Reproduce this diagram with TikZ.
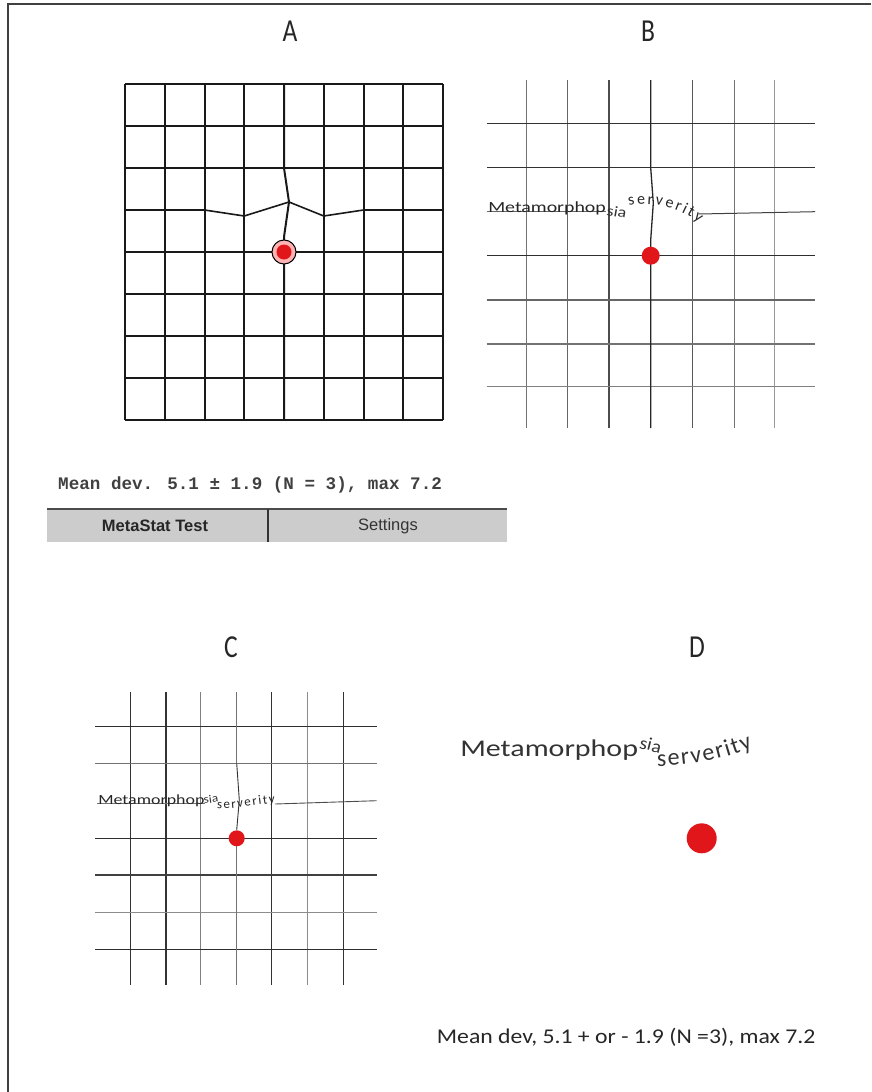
\documentclass[tikz,border=0pt]{standalone}
\usepackage{fontspec}
\setmainfont{Carlito}
\newfontfamily\monofnt{Liberation Mono}
\newfontfamily\arialfnt{Liberation Sans}
\usetikzlibrary{decorations.text}
\definecolor{dotred}{HTML}{E0161B}
\tikzset{
  gA/.style={line width=2pt, black!90},
  gl/.style={line width=1.3pt},
  panellabel/.style={font=\fontsize{32}{32}\selectfont, text=black!85, xscale=0.8, inner sep=0},
  warp/.style={text=black!80, inner sep=0, xscale=1.28},
  smalltxt/.style={text=black!80, inner sep=0},
  reddot/.style={circle, fill=dotred, inner sep=0},
}
\begin{document}
\begin{tikzpicture}[x=1pt,y=1pt]
\useasboundingbox (0,0) rectangle (871,-1092);
% outer frame
\draw[line width=1.6pt, black!75] (871,-4) -- (8,-4) -- (8,-1092);

% labels
\node[panellabel] (labA) at (290,-31) {A};
\node[panellabel] (labB) at (648,-31) {B};
\node[panellabel] (labC) at (231,-647) {C};
\node[panellabel] (labD) at (697,-647) {D};

% ---------- Panel A ----------
\foreach \x in {125,164.75,204.5,244.25,323.75,363.5,403.25,443}
  \draw[gA] (\x,-84) -- (\x,-420);
\foreach \y in {84,126,168,252,294,336,378,420}
  \draw[gA] (125,-\y) -- (443,-\y);
\draw[gA] (284,-84) -- (284,-168) -- (289,-202) -- (284,-237) -- (284,-420);
\draw[gA, line width=1.6pt] (125,-210) -- (204.5,-210) -- (244.25,-216) -- (289,-202) -- (323.75,-216) -- (363.5,-210) -- (443,-210);
\node[circle, draw=black, line width=1pt, fill=red!30, minimum size=24pt, inner sep=0] (dotAring) at (284,-252) {};
\node[reddot, minimum size=15pt] (dotA) at (284,-252) {};

% ---------- Panel B ----------
\foreach \x/\c in {526.7/55, 567.7/60, 609/70, 692.3/65, 734.3/55, 774.3/40}
  \draw[gl, black!\c] (\x,-80) -- (\x,-428);
\foreach \y/\c in {123.3/80, 167.7/80, 255.7/82, 300/60, 344/55, 386.7/50}
  \draw[gl, black!\c] (486.7,-\y) -- (815,-\y);
\draw[gl, black!85] (650.7,-80) -- (650.7,-167.7) -- (653.3,-203) -- (650.7,-240) -- (650.7,-428);
\draw[line width=0.9pt, black!60] (486.7,-211.5) -- (606,-211.5);
\draw[line width=1pt, black!75] (699,-214) -- (815,-211.7);
\node[warp, anchor=base west, font=\fontsize{15.5}{15.5}\selectfont, text=black!85] (txtB1) at (488,-212.5) {Metamorphop};
\node[smalltxt, anchor=base west, rotate=-10, xscale=1.2, font=\fontsize{15}{15}\selectfont] (txtB2) at (606,-215) {sia};
\path[decorate, decoration={text along path, text color=black!85,
   text={|\fontsize{16}{16}\selectfont|serverity}, text align={fit to path}}]
   (629,-206) .. controls (650,-201) and (678,-206) .. (699,-223);
\node[reddot, minimum size=18pt] (dotB) at (650.7,-255.7) {};

% ---------- Mean dev line and buttons ----------
\node[anchor=west, inner sep=0, font=\monofnt\bfseries\fontsize{17.6}{17.6}\selectfont, text=black!75] (meanA) at (58,-485) {Mean dev. 5.1 ± 1.9 (N = 3), max 7.2};
\fill[black!20] (47.3,-508.3) rectangle (506.7,-541.7);
\draw[line width=2pt, black!70] (47.3,-509) -- (506.7,-509);
\draw[line width=2pt, black!80] (267.7,-509) -- (267.7,-541.7);
\node[font=\arialfnt\bfseries\fontsize{16.5}{16.5}\selectfont, text=black!85, inner sep=0] (btn1) at (155,-526) {MetaStat Test};
\node[font=\arialfnt\fontsize{16.5}{16.5}\selectfont, text=black!80, inner sep=0] (btn2) at (388,-526) {Settings};

% ---------- Panel C ----------
\foreach \x/\c in {130.7/80, 166/80, 200.7/50, 271.7/80, 307.7/45, 343.3/80}
  \draw[gl, black!\c] (\x,-691.7) -- (\x,-985);
\foreach \y/\c in {726.7/82, 763.3/55, 838.3/82, 875/75, 912.3/45, 949.3/82}
  \draw[gl, black!\c] (95,-\y) -- (376.7,-\y);
\draw[gl, black!55] (236.7,-691.7) -- (236.7,-763.3);
\draw[line width=0.9pt, black!80] (236.7,-763.3) -- (239.3,-800) -- (236.7,-830);
\draw[gl, black!55] (236.7,-838.3) -- (236.7,-985);
\draw[line width=0.8pt, black!55] (97,-803.5) -- (205,-803.5);
\draw[line width=0.9pt, black!70] (275,-804) -- (376.7,-800.7);
\node[warp, anchor=base west, font=\fontsize{14}{14}\selectfont, text=black!85] (txtC1) at (98,-804) {Metamorphop};
\node[smalltxt, anchor=base west, rotate=8, xscale=1.15, font=\fontsize{11.5}{11.5}\selectfont] (txtC2) at (204,-804) {sia};
\path[decorate, decoration={text along path, text color=black!85,
   text={|\fontsize{13}{13}\selectfont|serverity}, text align={fit to path}}]
   (217,-808) .. controls (235,-810) and (255,-804) .. (275,-803);
\node[reddot, minimum size=16pt] (dotC) at (236.7,-838.3) {};

% ---------- Panel D ----------
\node[warp, anchor=base west, font=\fontsize{24}{24}\selectfont, text=black!80, xscale=1.25/1.28] (txtD1) at (460,-756.7) {Metamorphop};
\node[smalltxt, anchor=base west, rotate=-14, xscale=1.1, font=\fontsize{18}{18}\selectfont] (txtD2) at (638.5,-748) {sia};
\path[decorate, decoration={text along path, text color=black!80,
   text={|\fontsize{24}{24}\selectfont|serverity}, text align={fit to path}}]
   (657,-766) .. controls (690,-766) and (722,-760) .. (753,-747);
\node[reddot, minimum size=30pt] (dotD) at (701.7,-838.3) {};

% bottom text
\node[anchor=west, inner sep=0, font=\fontsize{21}{21}\selectfont, text=black!85, xscale=1.13] (meanD) at (436.7,-1037) {Mean dev, 5.1 + or - 1.9 (N =3), max 7.2};
\end{tikzpicture}
\end{document}
